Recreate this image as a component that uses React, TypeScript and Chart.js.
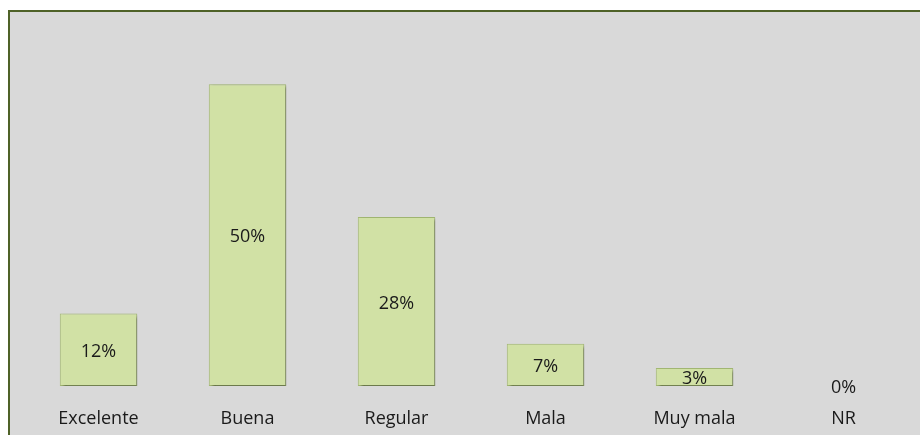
import React, { useEffect, useRef } from "react";
import { Chart, registerables } from "chart.js";

Chart.register(...registerables);

const categories = ["Excelente", "Buena", "Regular", "Mala", "Muy mala", "NR"];
const values = [12, 50, 28, 7, 3, 0];
const valueLabels = ["12%", "50%", "28%", "7%", "3%", "0%"];

const FONT = "'Open Sans', 'Liberation Sans', sans-serif";

const shadowPlugin = {
  id: "barShadow",
  beforeDatasetsDraw(chart: any) {
    const ctx = chart.ctx;
    ctx.save();
    ctx.shadowColor = "rgba(0,0,0,0.45)";
    ctx.shadowBlur = 3;
    ctx.shadowOffsetX = 2;
    ctx.shadowOffsetY = 2;
  },
  afterDatasetsDraw(chart: any) {
    chart.ctx.restore();
  },
};

const labelPlugin = {
  id: "valueLabels",
  afterDatasetsDraw(chart: any) {
    const ctx = chart.ctx;
    const meta = chart.getDatasetMeta(0);
    ctx.save();
    ctx.shadowColor = "transparent";
    ctx.font = `18px ${FONT}`;
    ctx.fillStyle = "#1a1a1a";
    ctx.textAlign = "center";
    ctx.textBaseline = "middle";
    meta.data.forEach((el: any, i: number) => {
      const cy = (el.y + el.base) / 2 + 2;
      ctx.fillText(valueLabels[i], el.x, cy);
    });
    ctx.restore();
  },
};

export default function App() {
  const ref = useRef<HTMLCanvasElement | null>(null);
  useEffect(() => {
    if (!ref.current) return;
    const chart = new Chart(ref.current, {
      type: "bar",
      data: {
        labels: categories,
        datasets: [
          {
            data: values,
            backgroundColor: "#d1e1a5",
            borderColor: "#a3b873",
            borderWidth: 1,
            borderSkipped: false,
            categoryPercentage: 1,
            barPercentage: 0.52,
          },
        ],
      },
      options: {
        animation: false,
        responsive: false,
        maintainAspectRatio: false,
        layout: { padding: { left: 14, right: 2, top: 12, bottom: 0 } },
        plugins: { legend: { display: false }, tooltip: { enabled: false } },
        scales: {
          x: {
            grid: { display: false, drawTicks: false },
            border: { display: false },
            ticks: {
              padding: 22,
              color: "#1a1a1a",
              font: { family: FONT, size: 18 },
            },
            afterFit: (scale: any) => {
              scale.height = 49;
            },
          },
          y: {
            display: false,
            min: 0,
            max: 60,
          },
        },
      },
      plugins: [shadowPlugin, labelPlugin],
    });
    return () => chart.destroy();
  }, []);
  return (
    <div
      style={{
        position: "absolute",
        left: 8,
        top: 10,
        width: 912,
        height: 425,
        background: "#d9d9d9",
        borderTop: "2px solid #4f6228",
        borderLeft: "2px solid #4f6228",
        overflow: "hidden",
      }}
    >
      <canvas ref={ref} width={910} height={423} style={{ display: "block" }} />
    </div>
  );
}
